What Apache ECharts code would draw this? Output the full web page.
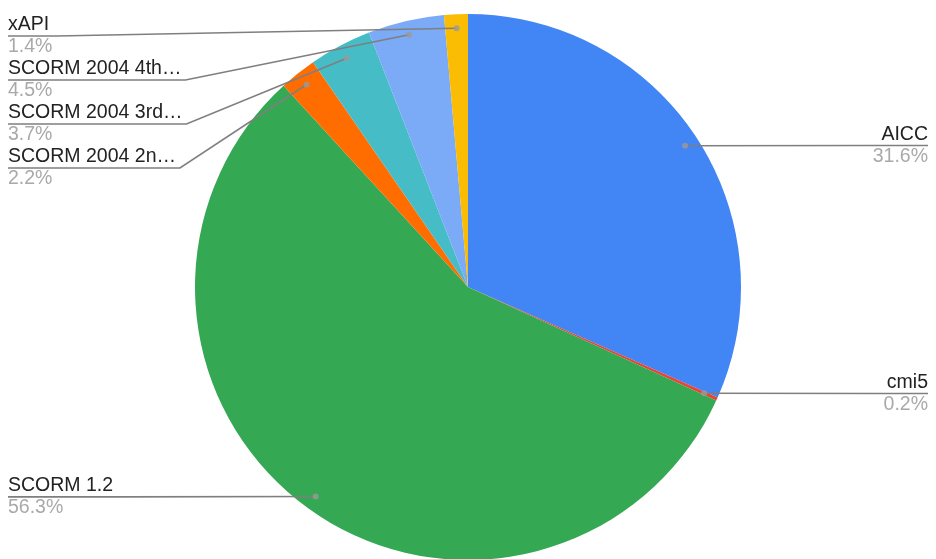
<!DOCTYPE html>
<html>
<head>
<meta charset="utf-8">
<script src="https://cdn.jsdelivr.net/npm/echarts@6/dist/echarts.min.js"></script>
<style>
  html, body { margin: 0; padding: 0; background: #fff; }
  #main { width: 936px; height: 559px; }
</style>
</head>
<body>
<div id="main"></div>
<script>
// slices, clockwise from 12 o'clock
var names = ['AICC', 'cmi5', 'SCORM 1.2', 'SCORM 2004 2n…', 'SCORM 2004 3rd…', 'SCORM 2004 4th…', 'xAPI'];
var shares = [31.6, 0.2, 56.3, 2.2, 3.7, 4.5, 1.4];
var colors = ['#4285f4', '#ea4335', '#34a853', '#ff6d01', '#46bdc6', '#7baaf7', '#fbbc04'];

var total = shares.reduce(function(a, b) { return a + b; }, 0);
var pieData = names.map(function(n, i) {
  return { name: n, value: shares[i], itemStyle: { color: colors[i] } };
});
var labelData = names.map(function(n, i) {
  return { name: n, value: shares[i] };
});
// little dots where the leader lines start (mid-angle of each slice)
var acc = 0;
var dotData = shares.map(function(v) {
  var mid = acc + v / 2;
  acc += v;
  return [259, mid];
});

var myChart = echarts.init(document.getElementById('main'));
var W = 936;
var TOP = 14; // keep label stack off the top edge
var FONT = 'Liberation Sans, Arial, sans-serif';

var option = {
  animation: false,
  polar: { center: [468, 287], radius: 273 },
  angleAxis: { type: 'value', min: 0, max: total, startAngle: 90, show: false },
  radiusAxis: { type: 'value', min: 0, max: 273, show: false },
  series: [{
    type: 'pie',
    center: [468, 287],
    radius: 273,
    startAngle: 90,
    silent: true,
    label: { show: false },
    labelLine: { show: false },
    data: pieData
  }, {
    // transparent copy, only carries the labels (lines start inside the pie)
    type: 'pie',
    top: TOP,
    center: [468, 287 - TOP],
    radius: 259,
    startAngle: 90,
    silent: true,
    z: 5,
    itemStyle: { color: 'rgba(0,0,0,0)' },
    label: {
      show: true,
      alignTo: 'edge',
      edgeDistance: 8,
      distanceToLabelLine: 0,
      formatter: '{n|{b}}\n{p|{c}%}',
      rich: {
        n: { color: '#222', fontSize: 19.5, lineHeight: 22, fontFamily: FONT },
        p: { color: '#a9a9a9', fontSize: 19.5, lineHeight: 22, fontFamily: FONT }
      }
    },
    labelLine: {
      show: true,
      length: 0.5,
      length2: 30,
      lineStyle: { color: '#7f7f7f', width: 1.6 }
    },
    labelLayout: function(params) {
      // google style: straight from the dot to just past the text, then under it to the edge
      var pts = params.labelLinePoints;
      var r = params.labelRect;
      if (!pts || !r) return {};
      var y = pts[pts.length - 1][1];
      var left = pts[pts.length - 1][0] < 468;
      var elbow = left ? r.x + r.width + 4 : r.x - 4;
      var edge = left ? 8 : W - 8;
      return { labelLinePoints: [pts[0].slice(), [elbow, y], [edge, y]] };
    },
    data: labelData
  }, {
    type: 'scatter',
    coordinateSystem: 'polar',
    symbolSize: 6,
    silent: true,
    z: 6,
    itemStyle: { color: '#9a9a9a' },
    data: dotData
  }]
};
myChart.setOption(option);
</script>
</body>
</html>
